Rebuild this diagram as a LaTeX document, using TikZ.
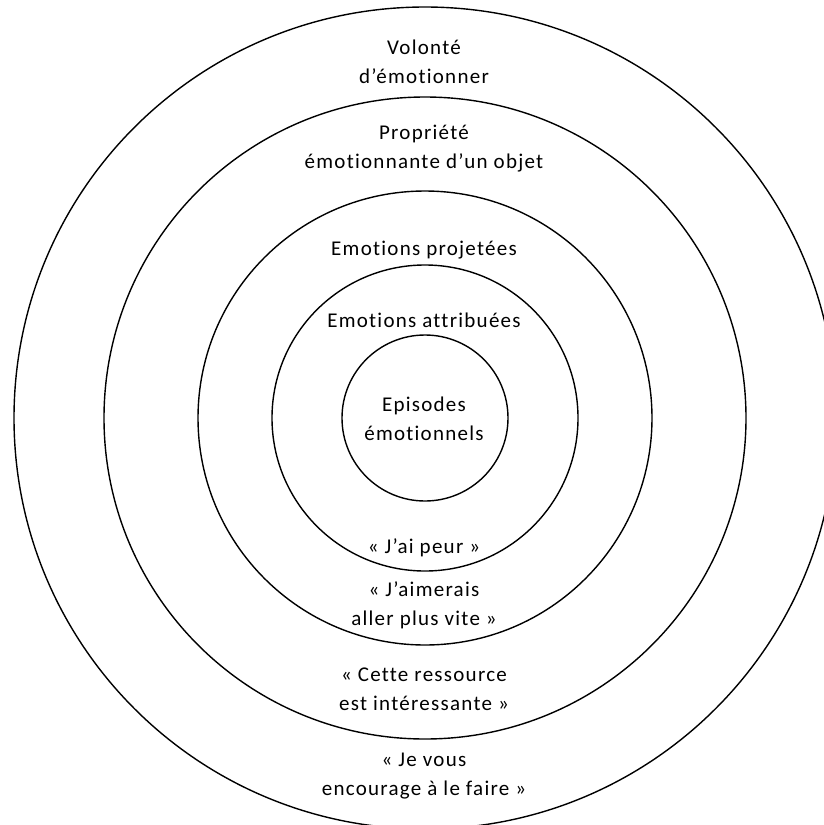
\documentclass[tikz,border=0pt]{standalone}
\usepackage{fontspec}
\setmainfont{Carlito}[LetterSpace=6,Ligatures=NoCommon]
\usetikzlibrary{positioning}

\begin{document}
\begin{tikzpicture}[x=1pt,y=-1pt,
 ring/.style={draw,line width=1.4pt},
 lbl/.style={align=center,font=\fontsize{21}{29}\selectfont,inner sep=0pt}]
 \useasboundingbox (0,0) rectangle (823,825);
 \coordinate (ctr) at (425,418);
 \foreach \r in {411,321,227,153,83} \draw[ring] (ctr) circle[radius=\r];
 % labels, from outside in
 \node[lbl] (vol) at (424,62) {Volonté\\d’émotionner};
 \node[lbl] (prop) at (424,149) {Propriété\\émotionnante d’un objet};
 \node[lbl] (proj) at (424,250) {Emotions projetées};
 \node[lbl] (attr) at (424,320) {Emotions attribuées};
 \node[lbl] (epi) at (424,419) {Episodes\\émotionnels};
 % examples
 \node[lbl] (peur) at (424,548) {«~J’ai peur~»};
 \node[lbl] (vite) at (424,605) {«~J’aimerais\\aller plus vite~»};
 \node[lbl] (res) at (424,689) {«~Cette ressource\\est intéressante~»};
 \node[lbl] (enc) at (424,776) {«~Je vous\\encourage à le faire~»};
\end{tikzpicture}
\end{document}
